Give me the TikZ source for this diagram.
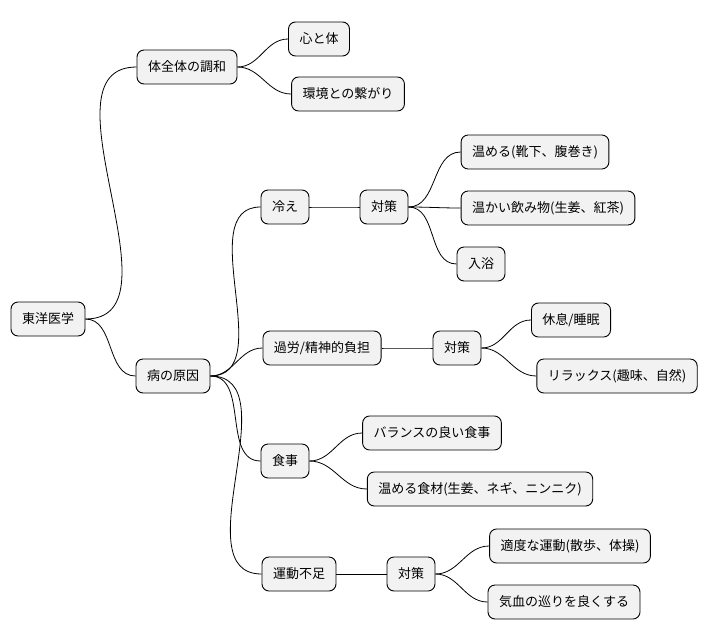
\documentclass[tikz,border=0pt]{standalone}
\usepackage{fontspec}
\newfontfamily\cjk{Noto Sans CJK JP}
\usetikzlibrary{positioning}

\tikzset{
  topic/.style = {rectangle,
                  draw,
                  rounded corners = 7pt,
                  fill = gray!10,
                  line width = 0.9pt,
                  inner xsep = 11pt,
                  minimum height = 34pt,
                  font = \cjk\fontsize{13}{15}\selectfont},
  branch/.style = {line width = 0.8pt, out = 0, in = 180}
}

\begin{document}
\begin{tikzpicture}[x=1pt, y=-1pt]

    \useasboundingbox (0,0) rectangle (714,640);

    % root and first level
    \node[topic] (root) at (48,319) {東洋医学};
    \node[topic] (whole) at (187,67) {体全体の調和};
    \node[topic] (cause) at (173,376) {病の原因};

    % harmony
    \node[topic] (mind) at (319,39) {心と体};
    \node[topic] (env) at (348,94) {環境との繋がり};

    % causes
    \node[topic] (cold) at (285,207) {冷え};
    \node[topic] (coldfix) at (384,207) {対策};
    \node[topic] (warm) at (535,152) {温める(靴下、腹巻き)};
    \node[topic] (drink) at (548,208) {温かい飲み物(生姜、紅茶)};
    \node[topic] (bath) at (481,264) {入浴};

    \node[topic] (stress) at (322,348) {過労/精神的負担};
    \node[topic] (stressfix) at (457,348) {対策};
    \node[topic] (rest) at (571,320) {休息/睡眠};
    \node[topic] (relax) at (617,376) {リラックス(趣味、自然)};

    \node[topic] (food) at (285,461) {食事};
    \node[topic] (balance) at (432,433) {バランスの良い食事};
    \node[topic] (warmfood) at (480,489) {温める食材(生姜、ネギ、ニンニク)};

    \node[topic] (lack) at (299,574) {運動不足};
    \node[topic] (lackfix) at (411,574) {対策};
    \node[topic] (walk) at (570,546) {適度な運動(散歩、体操)};
    \node[topic] (flow) at (564,602) {気血の巡りを良くする};

    \path[branch]
    (root.east) edge[branch] (whole.west)
    (root.east) edge[branch] (cause.west)
    (whole.east) edge[branch] (mind.west)
    (whole.east) edge[branch] (env.west)
    (cause.east) edge[branch] (cold.west)
    (cause.east) edge[branch] (stress.west)
    (cause.east) edge[branch] (food.west)
    (cause.east) edge[branch] (lack.west)
    (cold.east) edge[branch] (coldfix.west)
    (coldfix.east) edge[branch] (warm.west)
    (coldfix.east) edge[branch] (drink.west)
    (coldfix.east) edge[branch] (bath.west)
    (stress.east) edge[branch] (stressfix.west)
    (stressfix.east) edge[branch] (rest.west)
    (stressfix.east) edge[branch] (relax.west)
    (food.east) edge[branch] (balance.west)
    (food.east) edge[branch] (warmfood.west)
    (lack.east) edge[branch] (lackfix.west)
    (lackfix.east) edge[branch] (walk.west)
    (lackfix.east) edge[branch] (flow.west);

\end{tikzpicture}
\end{document}
